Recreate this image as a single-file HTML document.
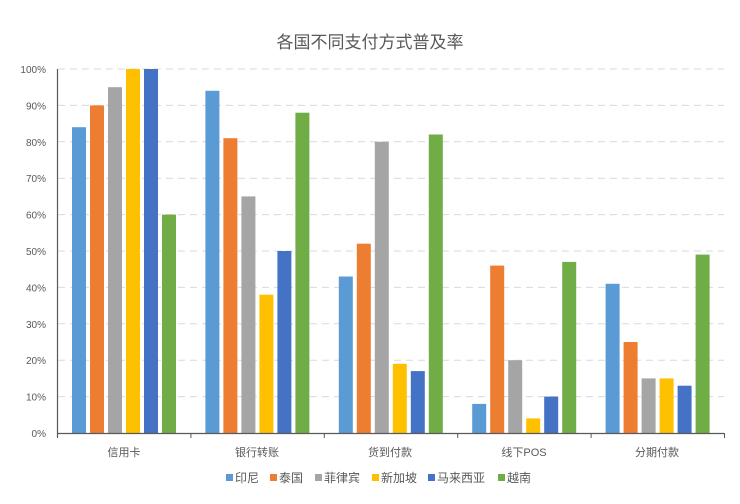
<!DOCTYPE html>
<html><head><meta charset="utf-8"><style>
body{margin:0;background:#fff;}
svg text{font-family:"Liberation Sans","Noto Sans CJK SC",sans-serif;}
</style></head><body>
<svg id="c" width="740" height="499" xmlns="http://www.w3.org/2000/svg">
<rect width="740" height="499" fill="#fff"/>
<text x="370" y="48" text-anchor="middle" font-size="17" fill="#595959">各国不同支付方式普及率</text>
<g id="grid" stroke="#d9d9d9" stroke-width="1" stroke-dasharray="7,5"></g>
<g font-size="10" fill="#595959" text-anchor="end" id="ylab"></g>
<g id="bars"></g>
<line x1="57" y1="433.5" x2="724" y2="433.5" stroke="#595959" stroke-width="1.2"/>
<line x1="57.5" y1="69" x2="57.5" y2="437" stroke="#595959" stroke-width="1.2"/>
<g id="ticks" stroke="#595959"></g>
<g font-size="11" fill="#595959" text-anchor="middle">
<text x="124" y="456">信用卡</text>
<text x="257" y="456">银行转账</text>
<text x="390" y="456">货到付款</text>
<text x="524" y="456">线下POS</text>
<text x="657" y="456">分期付款</text>
</g>
<g font-size="12" fill="#595959">
<rect x="226" y="474" width="7" height="7" fill="#5B9BD5"/><text x="235" y="482">印尼</text>
<rect x="270" y="474" width="7" height="7" fill="#ED7D31"/><text x="279" y="482">泰国</text>
<rect x="315" y="474" width="7" height="7" fill="#A5A5A5"/><text x="324" y="482">菲律宾</text>
<rect x="372" y="474" width="7" height="7" fill="#FFC000"/><text x="381" y="482">新加坡</text>
<rect x="428" y="474" width="7" height="7" fill="#4472C4"/><text x="437" y="482">马来西亚</text>
<rect x="498" y="474" width="7" height="7" fill="#70AD47"/><text x="507" y="482">越南</text>
</g>
</svg>
<script>
var ns="http://www.w3.org/2000/svg";
function el(p,t,a){var e=document.createElementNS(ns,t);for(var k in a)e.setAttribute(k,a[k]);p.appendChild(e);return e;}
var g=document.getElementById('grid'),yl=document.getElementById('ylab'),b=document.getElementById('bars'),tk=document.getElementById('ticks');
for(var i=1;i<=10;i++){var y=433-i*36.4;el(g,'line',{x1:58,x2:724,y1:y.toFixed(1),y2:y.toFixed(1)});}
for(var i=0;i<=10;i++){var y=433-i*36.4;var t=el(yl,'text',{x:46,y:(y+4).toFixed(1)});t.textContent=(i*10)+'%';}
var cols=["#5B9BD5","#ED7D31","#A5A5A5","#FFC000","#4472C4","#70AD47"];
var d=[[84,90,95,100,100,60],[94,81,65,38,50,88],[43,52,80,19,17,82],[8,46,20,4,10,47],[41,25,15,15,13,49]];
for(var i=0;i<5;i++){var g0=57+133.4*i;for(var j=0;j<6;j++){var h=d[i][j]*3.64;el(b,'rect',{x:(g0+15+18*j).toFixed(1),y:(433-h).toFixed(1),width:14,height:h.toFixed(1),fill:cols[j]});}}
for(var i=0;i<=5;i++){var x=57.5+133.4*i;el(tk,'line',{x1:x,x2:x,y1:433,y2:438});}
</script>
</body></html>
